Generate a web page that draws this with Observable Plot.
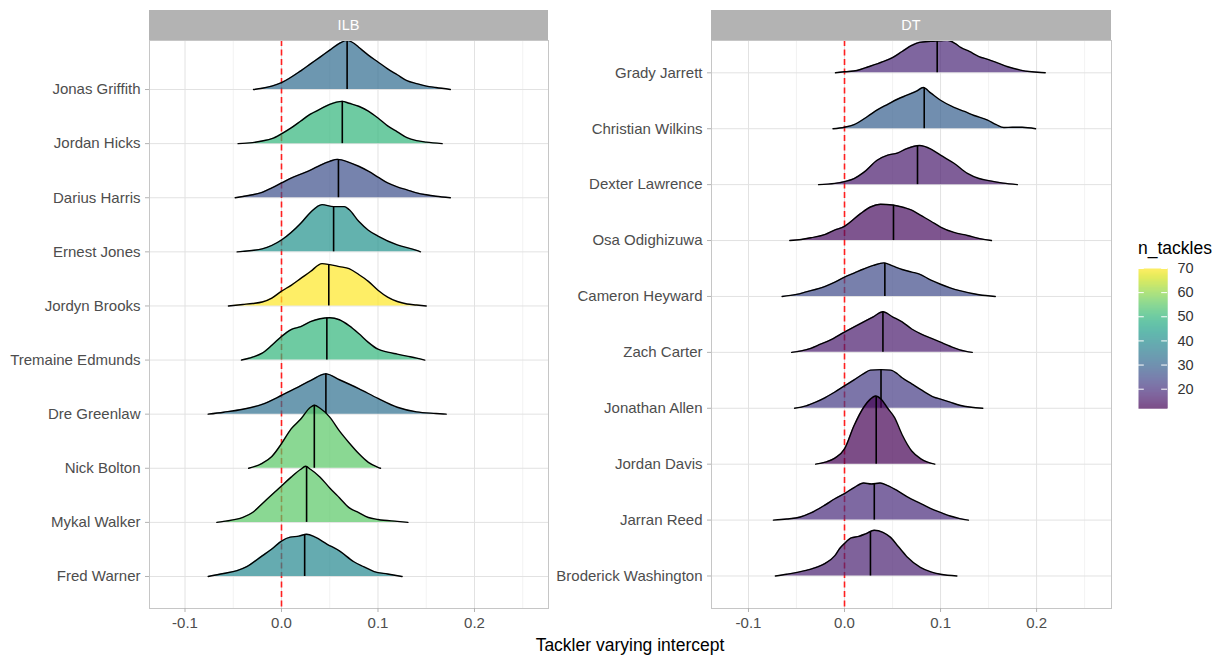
<!DOCTYPE html>
<html><head><meta charset="utf-8">
<script src="https://cdn.jsdelivr.net/npm/d3@7"></script>
<script src="https://cdn.jsdelivr.net/npm/@observablehq/plot@0.6"></script>
<style>
body{margin:0;background:#fff;font-family:"Liberation Sans",Arial,Helvetica,sans-serif;}
#root{position:relative;width:1220px;height:660px;overflow:hidden;}
.abs{position:absolute;}
.strip{background:#b3b3b3;color:#fff;font-size:14.5px;text-align:center;line-height:30px;height:30px;}
</style></head><body><div id="root"></div>
<script>
// ---------- data ----------
const ilbPlayers = ["Jonas Griffith","Jordan Hicks","Darius Harris","Ernest Jones","Jordyn Brooks","Tremaine Edmunds","Dre Greenlaw","Nick Bolton","Mykal Walker","Fred Warner"];
const ilbTackles = [32, 50, 26, 41, 70, 50, 33, 55, 55, 39];
const ilbMedians = [0.068, 0.063, 0.059, 0.054, 0.049, 0.047, 0.046, 0.034, 0.026, 0.024];
const ilbDensity = [
  [[-0.029,0],[-0.02,1.3],[-0.01,3.5],[0,7],[0.02,19],[0.03,26],[0.04,33],[0.05,40],[0.06,47],[0.068,50],[0.075,47],[0.08,43],[0.09,35],[0.1,28],[0.11,21],[0.12,15],[0.13,9],[0.14,6],[0.15,3.5],[0.16,2],[0.175,0]],
  [[-0.045,0],[-0.03,1],[-0.02,2.7],[-0.01,5],[0,10],[0.01,16],[0.02,23],[0.03,30],[0.04,35],[0.05,40],[0.063,43],[0.07,41],[0.08,38],[0.09,33],[0.1,26],[0.11,18],[0.12,12],[0.13,6],[0.14,3],[0.15,1.5],[0.1665,0]],
  [[-0.048,0],[-0.04,1.3],[-0.03,3],[-0.02,5.5],[-0.01,10],[0,15],[0.01,20],[0.02,24],[0.03,28],[0.04,33],[0.05,37],[0.058,39],[0.07,36],[0.08,32],[0.09,27],[0.1,21],[0.11,15],[0.12,11],[0.13,8],[0.14,5],[0.15,3],[0.16,1.5],[0.175,0]],
  [[-0.046,0],[-0.04,0.5],[-0.02,3],[0,12],[0.02,29],[0.03,40],[0.042,48],[0.054,46],[0.065,46],[0.07,43],[0.08,31],[0.09,22],[0.1,16],[0.12,7],[0.14,1.5],[0.144,0]],
  [[-0.055,0],[-0.04,1.5],[-0.03,2.5],[-0.02,4],[-0.01,8],[0,15],[0.01,21],[0.02,28],[0.03,35],[0.042,43],[0.05,42],[0.06,40],[0.07,38],[0.08,32],[0.09,25],[0.1,16],[0.11,9],[0.12,4.5],[0.13,2],[0.14,1],[0.15,0]],
  [[-0.0415,0],[-0.03,3],[-0.02,7],[-0.01,15],[0,24],[0.01,31],[0.02,34],[0.03,39],[0.04,42],[0.05,43],[0.06,41],[0.07,35],[0.08,27],[0.09,18],[0.1,11],[0.11,8],[0.12,6],[0.13,4],[0.14,2],[0.1485,0]],
  [[-0.076,0],[-0.06,2],[-0.04,5],[-0.02,10],[0,19],[0.02,29],[0.03,34],[0.046,41],[0.06,35],[0.08,26],[0.1,16],[0.12,7],[0.14,2.3],[0.16,0.7],[0.1707,0]],
  [[-0.034,0],[-0.02,5],[-0.01,12],[0,25],[0.01,40],[0.02,50],[0.03,62],[0.034,64],[0.04,61],[0.05,52],[0.06,38],[0.07,26],[0.08,15],[0.09,6],[0.1,1],[0.1026,0]],
  [[-0.067,0],[-0.06,1],[-0.04,5],[-0.03,10],[-0.02,19],[-0.01,28],[0,37],[0.01,46],[0.02,54],[0.025,57],[0.03,54],[0.04,46],[0.05,35],[0.06,25],[0.07,15],[0.08,10],[0.09,5],[0.1,3],[0.12,1],[0.131,0]],
  [[-0.076,0],[-0.06,3],[-0.046,6],[-0.036,10],[-0.02,21],[-0.01,28],[0,36],[0.009,40],[0.018,41],[0.026,43],[0.035,40],[0.047,33],[0.06,26],[0.075,15],[0.085,10],[0.096,5],[0.11,2.5],[0.125,0]]
];

const dtPlayers = ["Grady Jarrett","Christian Wilkins","Dexter Lawrence","Osa Odighizuwa","Cameron Heyward","Zach Carter","Jonathan Allen","Jordan Davis","Jarran Reed","Broderick Washington"];
const dtTackles = [18, 29, 16, 14, 25, 16, 22, 12, 19, 17];
const dtMedians = [0.0965, 0.083, 0.076, 0.051, 0.042, 0.040, 0.038, 0.033, 0.031, 0.027];
const dtDensity = [
  [[-0.0094,0],[0,1],[0.013,2.3],[0.025,6],[0.04,11],[0.05,15],[0.06,21],[0.07,27],[0.078,30],[0.09,31],[0.1,31.5],[0.107,32],[0.115,29],[0.121,25],[0.13,21],[0.14,16],[0.15,13],[0.16,9.5],[0.17,6],[0.183,2.7],[0.195,1],[0.209,0]],
  [[-0.012,0],[0,1.5],[0.01,4],[0.024,12],[0.035,19],[0.045,24],[0.055,29],[0.065,33],[0.075,37],[0.082,40.5],[0.09,35],[0.1,28],[0.114,21],[0.125,17],[0.135,13],[0.149,8.5],[0.158,4],[0.166,1.2],[0.175,1.5],[0.185,1.5],[0.199,0]],
  [[-0.027,0],[-0.01,1.2],[0,3],[0.01,6],[0.02,12],[0.034,24],[0.045,29],[0.055,31],[0.065,35.5],[0.078,38.5],[0.09,35],[0.1,29],[0.114,21],[0.128,11],[0.14,6],[0.15,4],[0.165,1.5],[0.18,0]],
  [[-0.057,0],[-0.045,1],[-0.035,2.7],[-0.02,6],[-0.011,10],[0,14],[0.0167,26.5],[0.027,33],[0.0375,35.7],[0.05,35],[0.062,32.5],[0.07,30],[0.079,25],[0.09,19],[0.1,13.3],[0.114,8],[0.128,5],[0.142,1.7],[0.153,0]],
  [[-0.065,0],[-0.05,2],[-0.04,4.5],[-0.02,10],[-0.01,14],[0,19],[0.01,23],[0.02,27],[0.03,30.5],[0.041,33],[0.05,30],[0.06,26.5],[0.07,24],[0.078,22],[0.09,16],[0.1,12],[0.11,8.5],[0.12,5.7],[0.14,1.7],[0.157,0]],
  [[-0.055,0],[-0.045,1.5],[-0.035,4],[-0.025,8],[-0.015,12],[0,20],[0.01,25],[0.02,30],[0.03,35],[0.04,40],[0.05,35],[0.06,30],[0.07,23],[0.08,18],[0.09,14],[0.1,10],[0.11,6],[0.12,2.5],[0.133,0]],
  [[-0.052,0],[-0.04,2.3],[-0.03,6],[-0.02,10.5],[-0.01,16],[0,22],[0.01,28],[0.02,34],[0.027,37.5],[0.038,38],[0.048,37.5],[0.055,34],[0.06,30],[0.07,24],[0.08,18],[0.093,11],[0.1,9],[0.11,6],[0.12,3],[0.144,0]],
  [[-0.03,0],[-0.02,2],[-0.01,6],[0,15],[0.01,38],[0.02,56],[0.027,64],[0.0323,67],[0.038,64],[0.045,55],[0.052,46],[0.06,29],[0.07,13],[0.08,5],[0.094,0]],
  [[-0.074,0],[-0.06,1],[-0.046,3],[-0.035,7],[-0.02,15],[-0.01,21],[0,26],[0.01,32],[0.02,36.5],[0.028,35.5],[0.037,36.5],[0.045,34],[0.055,29],[0.065,23],[0.08,16],[0.093,10],[0.1,7.5],[0.11,4],[0.12,1.5],[0.129,0]],
  [[-0.072,0],[-0.06,1.7],[-0.04,5.5],[-0.028,9],[-0.02,12.5],[-0.01,20],[-0.005,27],[0,32],[0.007,37.5],[0.015,39],[0.022,41.5],[0.031,45],[0.04,43],[0.048,38],[0.056,29],[0.065,19],[0.079,8.5],[0.09,4],[0.1,1.7],[0.117,0]]
];

const majorBreaks = [-0.1, 0, 0.1, 0.2];
const minorBreaks = [-0.05, 0.05, 0.15, 0.25];
const legendBreaks = [20, 30, 40, 50, 60, 70];
const tackleRange = [12, 70];
const facetLabels = ["ILB", "DT"];
const xTitle = "Tackler varying intercept";
const legendTitle = "n_tackles";

// ---------- helpers ----------
const FONT = '"Liberation Sans", Arial, Helvetica, sans-serif';
const DENS_PER_ROW = 55;
const FILL_ALPHA = 0.7;
const colorScale = {type: "linear", scheme: "viridis", domain: tackleRange};

function interp(pts, x) {
  for (let i = 1; i < pts.length; i++) {
    const [x0, y0] = pts[i - 1], [x1, y1] = pts[i];
    if (x >= x0 && x <= x1) return y0 + (y1 - y0) * (x - x0) / (x1 - x0);
  }
  return 0;
}

function ridgePanel({players, tackles, medians, dens, xDomain, yDomain, marginLeft, marginRight, width}) {
  const n = players.length;
  const marks = [
    Plot.ruleX(minorBreaks, {stroke: "#efefef", strokeWidth: 0.8}),
    Plot.ruleX(majorBreaks, {stroke: "#e2e2e2", strokeWidth: 1}),
    Plot.ruleY(d3.range(1, n + 1), {stroke: "#e2e2e2", strokeWidth: 1}),
    Plot.ruleX([0], {stroke: "#ff2020", strokeWidth: 1.6, strokeDasharray: "6,3.5"})
  ];
  players.forEach((p, i) => {
    const row = n - i;
    const pts = dens[i].map(([x, d]) => ({x, base: row, top: row + d / DENS_PER_ROW, tackles: tackles[i]}));
    marks.push(Plot.areaY(pts, {x: "x", y1: "base", y2: "top", fill: "tackles", fillOpacity: FILL_ALPHA, curve: "monotone-x"}));
    marks.push(Plot.line(pts, {x: "x", y: "top", stroke: "#000", strokeWidth: 1.4, curve: "monotone-x"}));
    const h = interp(dens[i], medians[i]);
    marks.push(Plot.ruleX([medians[i]], {x: d => d, y1: row, y2: row + h / DENS_PER_ROW, stroke: "#000", strokeWidth: 1.6}));
  });
  marks.push(Plot.frame({stroke: "#c6c6c6", strokeWidth: 1}));
  marks.push(Plot.axisX({ticks: majorBreaks, tickFormat: d => d.toFixed(1), tickSize: 4, tickPadding: 5,
    stroke: "#b3b3b3", fill: "#4d4d4d", fontSize: 15, label: null}));
  marks.push(Plot.axisY({ticks: d3.range(1, n + 1), tickFormat: v => players[n - v], tickSize: 4, tickPadding: 5,
    stroke: "#b3b3b3", fill: "#4d4d4d", fontSize: 15, label: null}));
  return Plot.plot({
    width, height: 640, marginLeft, marginRight, marginTop: 40, marginBottom: 32,
    x: {domain: xDomain}, y: {domain: yDomain},
    color: colorScale,
    style: {fontFamily: FONT, fontSize: "15px", background: "transparent", overflow: "visible"},
    marks
  });
}

const root = document.getElementById("root");
function place(el, left, top) {
  el.classList.add("abs");
  el.style.left = left + "px";
  el.style.top = top + "px";
  root.appendChild(el);
}

// ---------- panels ----------
const left = ridgePanel({players: ilbPlayers, tackles: ilbTackles, medians: ilbMedians, dens: ilbDensity,
  xDomain: [-0.1368, 0.2767], yDomain: [0.4085, 10.906], marginLeft: 149, marginRight: 12, width: 560});
place(left, 0, 0);

const right = ridgePanel({players: dtPlayers, tackles: dtTackles, medians: dtMedians, dens: dtDensity,
  xDomain: [-0.1385, 0.278], yDomain: [0.4186, 10.578], marginLeft: 151, marginRight: 9, width: 560});
place(right, 560, 0);

// strips
[[facetLabels[0], 149, 399], [facetLabels[1], 711, 400]].forEach(([t, x, w]) => {
  const d = document.createElement("div");
  d.className = "strip";
  d.style.width = w + "px";
  d.textContent = t;
  place(d, x, 10);
});

// x title
const xt = document.createElement("div");
xt.style.cssText = "width:962px;text-align:center;font-size:17.5px;color:#000;line-height:20px;";
xt.textContent = xTitle;
place(xt, 149, 635);

// legend
const lt = document.createElement("div");
lt.style.cssText = "font-size:17.5px;color:#000;line-height:20px;";
lt.textContent = legendTitle;
place(lt, 1138, 238);

function legendPlot(useRaster) {
  const barMark = useRaster
    ? Plot.raster({x1: 0, x2: 1, y1: tackleRange[0], y2: tackleRange[1], width: 1, height: 280,
        fill: (x, y) => y, imageRendering: "auto"})
    : Plot.rect(d3.range(tackleRange[0], tackleRange[1], 0.5),
        {x1: 0, x2: 1, y1: d => d, y2: d => Math.min(d + 0.7, tackleRange[1]), fill: d => d});
  return Plot.plot({
    width: 80, height: 160, marginTop: 10, marginBottom: 10, marginLeft: 0, marginRight: 51,
    x: {domain: [0, 1], axis: null},
    y: {domain: tackleRange},
    color: colorScale,
    style: {fontFamily: FONT, fontSize: "14.5px", background: "transparent", overflow: "visible"},
    marks: [
      barMark,
      Plot.rect([tackleRange], {x1: 0, x2: 1, y1: d => d[0], y2: d => d[1], fill: "#fff", fillOpacity: 1 - FILL_ALPHA}),
      Plot.ruleY(legendBreaks, {x1: 0, x2: 0.2, stroke: "#fff", strokeWidth: 1}),
      Plot.ruleY(legendBreaks, {x1: 0.8, x2: 1, stroke: "#fff", strokeWidth: 1}),
      Plot.axisY({ticks: legendBreaks, anchor: "right", tickSize: 0, tickPadding: 10, fill: "#333", fontSize: 14.5, label: null})
    ]
  });
}
let legend;
try { legend = legendPlot(true); } catch (e) { legend = legendPlot(false); }
place(legend, 1138, 258);
</script>
</body></html>
